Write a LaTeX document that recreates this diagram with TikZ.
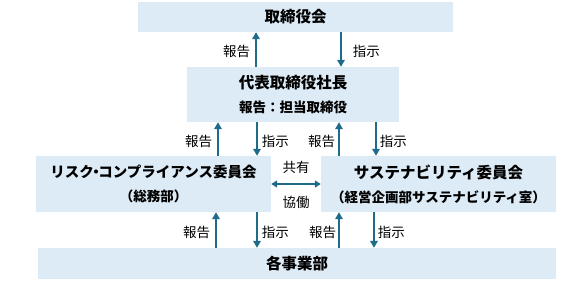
\documentclass[tikz,border=0pt]{standalone}
\usepackage{fontspec}
\setmainfont{Noto Sans CJK JP}
\usepackage{tikz}
\usetikzlibrary{positioning,arrows.meta}
\definecolor{boxfill}{HTML}{DDEBF7}
\definecolor{arrowblue}{HTML}{1E6B8C}

\begin{document}
\begin{tikzpicture}[
  x=1pt, y=-1pt,
  orgbox/.style={fill=boxfill, inner sep=0pt, anchor=center, align=center,
    font=\fontsize{15.5}{24}\selectfont\bfseries},
  flow/.style={draw=arrowblue, line width=1.8pt,
    -{Triangle[length=7pt,width=7.5pt]}},
  both/.style={draw=arrowblue, line width=1.6pt,
    {Triangle[length=6pt,width=7pt]}-{Triangle[length=6pt,width=7pt]}},
  lbl/.style={font=\fontsize{13.5}{15}\selectfont, inner sep=2pt},
]
\useasboundingbox (0,0) rectangle (580,297);
\def\subfont{\fontsize{13.5}{24}\selectfont}
\def\middot{\hspace{-5pt}・\hspace{-5pt}}

% --- Boxes (sizes in px of the 580x297 canvas)
\node[orgbox, minimum width=315pt, minimum height=30pt] (board) at (295.5,17) {取締役会};
\node[orgbox, minimum width=212pt, minimum height=55pt] (ceo) at (293,94.5)
  {代表取締役社長\\{\subfont 報告：担当取締役}};
\node[orgbox, minimum width=235pt, minimum height=56pt] (risk) at (153.5,184)
  {{\fontsize{14.5}{24}\selectfont リスク\middot コンプライアンス委員会}\\{\subfont （総務部）}};
\node[orgbox, minimum width=235pt, minimum height=56pt] (sust) at (438.5,184)
  {サステナビリティ委員会\\{\subfont （経営企画部サステナビリティ室）}};
\node[orgbox, minimum width=518pt, minimum height=31pt] (depts) at (297,263.5) {各事業部};

% --- x positions of the vertical arrows
\coordinate (xa) at (256,0);  \coordinate (xb) at (341,0);
\coordinate (xc) at (218,0);  \coordinate (xd) at (257,0);
\coordinate (xe) at (339,0);  \coordinate (xf) at (376,0);
\coordinate (xg) at (216,0);  \coordinate (xh) at (257,0);
\coordinate (xi) at (339,0);  \coordinate (xj) at (374,0);

% --- Reporting lines (up) and instructions (down)
\draw[flow] (ceo.north -| xa) -- (board.south -| xa) node[midway, lbl, left=3pt, yshift=-2pt] {報告};
\draw[flow] (board.south -| xb) -- (ceo.north -| xb) node[midway, lbl, right=9pt, yshift=-2pt] {指示};

\draw[flow] (risk.north -| xc) -- (ceo.south -| xc) node[midway, lbl, left=3pt, yshift=-2pt] {報告};
\draw[flow] (ceo.south -| xd) -- (risk.north -| xd) node[midway, lbl, right=2pt, yshift=-2pt] {指示};
\draw[flow] (sust.north -| xe) -- (ceo.south -| xe) node[midway, lbl, left=1pt, yshift=-2pt] {報告};
\draw[flow] (ceo.south -| xf) -- (sust.north -| xf) node[midway, lbl, right=1pt, yshift=-2pt] {指示};

\draw[flow] (depts.north -| xg) -- (risk.south -| xg) node[midway, lbl, left=3pt, yshift=-2pt] {報告};
\draw[flow] (risk.south -| xh) -- (depts.north -| xh) node[midway, lbl, right=2pt, yshift=-2pt] {指示};
\draw[flow] (depts.north -| xi) -- (sust.south -| xi) node[midway, lbl, left=0pt, yshift=-2pt] {報告};
\draw[flow] (sust.south -| xj) -- (depts.north -| xj) node[midway, lbl, right=1pt, yshift=-2pt] {指示};

% --- Shared work between the two committees
\draw[both] (risk.east) -- (sust.west)
  node[midway, lbl, above=8pt] {共有}
  node[midway, lbl, below=9pt] {協働};
\end{tikzpicture}
\end{document}
